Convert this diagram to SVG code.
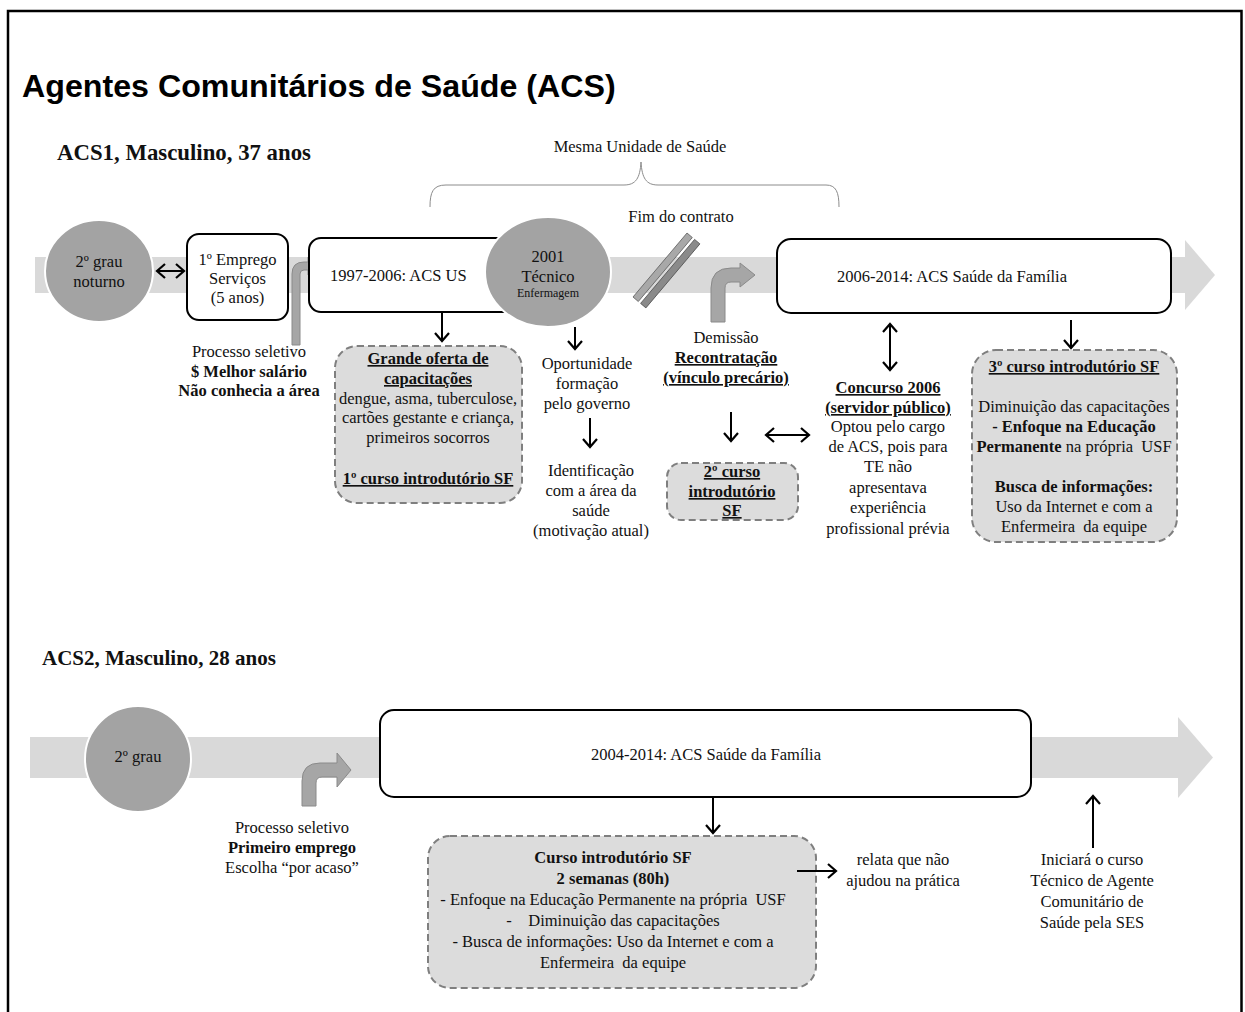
<svg xmlns="http://www.w3.org/2000/svg" width="1245" height="1012" viewBox="0 0 1245 1012">
  <defs>
    <style>
      .t { font-family: "Liberation Serif", "Times New Roman", serif; font-size: 16.5px; fill: #111; text-anchor: middle; }
      .st { text-anchor: start; }
      .b { font-weight: bold; }
      .u { text-decoration: underline; }
      .sm { font-size: 12px; }
      .band { fill: #d9d9d9; }
      .disc { fill: #a3a3a3; stroke: #ffffff; stroke-width: 2; }
      .box { fill: #ffffff; stroke: #000000; stroke-width: 2; }
      .dbox { fill: #dcdcdc; stroke: #7f7f7f; stroke-width: 2; stroke-dasharray: 7 4; }
      .bent { fill: #a6a6a6; stroke: #8a8a8a; stroke-width: 1; }
      .link { fill: none; stroke: #000; stroke-width: 2; }
    </style>
    <marker id="head" viewBox="0 0 16 16" markerUnits="userSpaceOnUse" markerWidth="16" markerHeight="16" refX="14" refY="8" orient="auto-start-reverse">
      <path d="M6,1 L14,8 L6,15" fill="none" stroke="#000" stroke-width="2.2"/>
    </marker>
  </defs>

  <rect width="1245" height="1012" fill="#ffffff"/>
  <!-- open frame -->
  <path d="M8,1012 V11 H1241.5 V1012" fill="none" stroke="#000" stroke-width="2.5"/>

  <text x="22" y="97" style="font-family:'Liberation Sans', Arial, sans-serif; font-size:32.2px; font-weight:bold; fill:#000">Agentes Comunitários de Saúde (ACS)</text>

  <!-- ===== ACS1 ===== -->
  <text class="t b st" x="57" y="160" style="font-size:22.8px">ACS1, Masculino, 37 anos</text>

  <!-- timeline band -->
  <g id="acs1-timeline">
    <rect class="band" x="35" y="257" width="1152" height="36"/>
    <polygon class="band" points="1185,240 1215,275 1185,310"/>
  </g>

  <!-- brace over the same health unit -->
  <g id="acs1-mesma-unidade">
    <path d="M430,207 C430,192 433,185 446,185 L624,185 C636,185 640,178 641,162 C642,178 646,185 658,185 L826,185 C836,185 839,192 839,207" fill="none" stroke="#8c8c8c" stroke-width="1"/>
    <text class="t" x="640" y="152">Mesma Unidade de Saúde</text>
  </g>

  <g id="acs1-grau">
    <ellipse class="disc" cx="99" cy="271" rx="54" ry="51"/>
    <text class="t" x="99" y="267">2º grau</text>
    <text class="t" x="99" y="287">noturno</text>
  </g>

  <g id="acs1-emprego">
    <rect class="box" x="187" y="234" width="101" height="86" rx="12"/>
    <text class="t" x="237.5" y="265">1º Emprego</text>
    <text class="t" x="237.5" y="284">Serviços</text>
    <text class="t" x="237.5" y="303">(5 anos)</text>
  </g>

  <g id="acs1-processo">
    <path class="bent" d="M292,345 V274 Q292,262 304,262 H308 V257 L320,266 L308,275 V270 H304 Q300,270 300,274 V345 Z"/>
    <text class="t" x="249" y="357">Processo seletivo</text>
    <text class="t b" x="249" y="377">$ Melhor salário</text>
    <text class="t b" x="249" y="396">Não conhecia a área</text>
  </g>

  <g id="acs1-acs-us">
    <rect class="box" x="309" y="238" width="250" height="74" rx="12"/>
    <text class="t st" x="330" y="281">1997-2006: ACS US</text>
  </g>

  <g id="acs1-tecnico">
    <ellipse class="disc" cx="548" cy="272" rx="63" ry="55"/>
    <text class="t" x="548" y="262">2001</text>
    <text class="t" x="548" y="282">Técnico</text>
    <text class="t sm" x="548" y="297">Enfermagem</text>
  </g>

  <g id="acs1-fim-contrato">
    <polygon points="633,297 687,233 692.3,237.5 638.3,301.5" fill="#a8a8a8" stroke="#5a5a5a" stroke-width="0.8"/>
    <polygon points="640.6,303.4 694.6,239.4 699.9,243.9 645.9,307.9" fill="#8a8a8a" stroke="#4a4a4a" stroke-width="0.8"/>
    <text class="t" x="681" y="222">Fim do contrato</text>
  </g>

  <g id="acs1-saude-familia">
    <rect class="box" x="777" y="239" width="394" height="74" rx="14"/>
    <text class="t" x="952" y="282">2006-2014: ACS Saúde da Família</text>
  </g>

  <g id="acs1-grande-oferta">
    <rect class="dbox" x="335" y="346" width="187" height="157" rx="22"/>
    <text class="t b u" x="428" y="364">Grande oferta de</text>
    <text class="t b u" x="428" y="384">capacitações</text>
    <text class="t" x="428" y="404">dengue, asma, tuberculose,</text>
    <text class="t" x="428" y="423">cartões gestante e criança,</text>
    <text class="t" x="428" y="443">primeiros socorros</text>
    <text class="t b u" x="428" y="484">1º curso introdutório SF</text>
  </g>

  <g id="acs1-oportunidade">
    <text class="t" x="587" y="369">Oportunidade</text>
    <text class="t" x="587" y="389">formação</text>
    <text class="t" x="587" y="409">pelo governo</text>
  </g>

  <g id="acs1-identificacao">
    <text class="t" x="591" y="476">Identificação</text>
    <text class="t" x="591" y="496">com a área da</text>
    <text class="t" x="591" y="516">saúde</text>
    <text class="t" x="591" y="536">(motivação atual)</text>
  </g>

  <g id="acs1-recontratacao">
    <path class="bent" d="M711,322 V288 Q711,268 731,268 H740 V263 L755,275 L740,287 V282 H731 Q725,282 725,288 V322 Z"/>
    <text class="t" x="726" y="343">Demissão</text>
    <text class="t b u" x="726" y="363">Recontratação</text>
    <text class="t b u" x="726" y="383">(vínculo precário)</text>
  </g>

  <g id="acs1-curso2">
    <rect class="dbox" x="667" y="463" width="131" height="57" rx="14"/>
    <text class="t b u" x="732" y="477">2º curso</text>
    <text class="t b u" x="732" y="497">introdutório</text>
    <text class="t b u" x="732" y="516">SF</text>
  </g>

  <g id="acs1-concurso">
    <text class="t b u" x="888" y="393">Concurso 2006</text>
    <text class="t b u" x="888" y="413">(servidor público)</text>
    <text class="t" x="888" y="432">Optou pelo cargo</text>
    <text class="t" x="888" y="452">de ACS, pois para</text>
    <text class="t" x="888" y="472">TE não</text>
    <text class="t" x="888" y="493">apresentava</text>
    <text class="t" x="888" y="513">experiência</text>
    <text class="t" x="888" y="534">profissional prévia</text>
  </g>

  <g id="acs1-curso3">
    <rect class="dbox" x="972" y="350" width="205" height="192" rx="24"/>
    <text class="t b u" x="1074" y="372">3º curso introdutório SF</text>
    <text class="t" x="1074" y="412">Diminuição das capacitações</text>
    <text class="t b" x="1074" y="432">- Enfoque na Educação</text>
    <text class="t" x="1074" y="452" xml:space="preserve"><tspan font-weight="bold">Permanente</tspan> na própria  USF</text>
    <text class="t b" x="1074" y="492">Busca de informações:</text>
    <text class="t" x="1074" y="512">Uso da Internet e com a</text>
    <text class="t" x="1074" y="532" xml:space="preserve">Enfermeira  da equipe</text>
  </g>

  <!-- ===== ACS2 ===== -->
  <text class="t b st" x="42" y="665" style="font-size:21px">ACS2, Masculino, 28 anos</text>

  <g id="acs2-timeline">
    <rect class="band" x="30" y="737" width="1150" height="41"/>
    <polygon class="band" points="1178,717 1213,757.5 1178,798"/>
  </g>

  <g id="acs2-grau">
    <ellipse class="disc" cx="138" cy="759" rx="53" ry="53"/>
    <text class="t" x="138" y="762">2º grau</text>
  </g>

  <g id="acs2-processo">
    <path class="bent" d="M302,806 V781 Q302,763 320,763 H337 V753 L351,770 L337,787 V777 H322 Q316,777 316,783 V806 Z"/>
    <text class="t" x="292" y="833">Processo seletivo</text>
    <text class="t b" x="292" y="853">Primeiro emprego</text>
    <text class="t" x="292" y="873">Escolha “por acaso”</text>
  </g>

  <g id="acs2-saude-familia">
    <rect class="box" x="380" y="710" width="651" height="87" rx="14"/>
    <text class="t" x="706" y="760">2004-2014: ACS Saúde da Família</text>
  </g>

  <g id="acs2-curso">
    <rect class="dbox" x="428" y="836" width="388" height="152" rx="22"/>
    <text class="t b" x="613" y="863">Curso introdutório SF</text>
    <text class="t b" x="613" y="884">2 semanas (80h)</text>
    <text class="t" x="613" y="905" xml:space="preserve">- Enfoque na Educação Permanente na própria  USF</text>
    <text class="t" x="613" y="926" xml:space="preserve">-    Diminuição das capacitações</text>
    <text class="t" x="613" y="947">- Busca de informações: Uso da Internet e com a</text>
    <text class="t" x="613" y="968" xml:space="preserve">Enfermeira  da equipe</text>
  </g>

  <g id="acs2-relata">
    <text class="t" x="903" y="865">relata que não</text>
    <text class="t" x="903" y="886">ajudou na prática</text>
  </g>

  <g id="acs2-tecnico-acs">
    <text class="t" x="1092" y="865">Iniciará o curso</text>
    <text class="t" x="1092" y="886">Técnico de Agente</text>
    <text class="t" x="1092" y="907">Comunitário de</text>
    <text class="t" x="1092" y="928">Saúde pela SES</text>
  </g>

  <!-- connectors -->
  <g id="connectors">
    <line class="link" x1="157" y1="271" x2="184" y2="271" marker-start="url(#head)" marker-end="url(#head)"/>
    <line class="link" x1="442" y1="312" x2="442" y2="341" marker-end="url(#head)"/>
    <line class="link" x1="575" y1="327" x2="575" y2="349" marker-end="url(#head)"/>
    <line class="link" x1="590" y1="418" x2="590" y2="447" marker-end="url(#head)"/>
    <line class="link" x1="731" y1="412" x2="731" y2="441" marker-end="url(#head)"/>
    <line class="link" x1="766" y1="435" x2="809" y2="435" marker-start="url(#head)" marker-end="url(#head)"/>
    <line class="link" x1="890" y1="324" x2="890" y2="370" marker-start="url(#head)" marker-end="url(#head)"/>
    <line class="link" x1="1071" y1="320" x2="1071" y2="348" marker-end="url(#head)"/>
    <line class="link" x1="713" y1="798" x2="713" y2="833" marker-end="url(#head)"/>
    <line class="link" x1="797" y1="871" x2="836" y2="871" marker-end="url(#head)"/>
    <line class="link" x1="1093" y1="848" x2="1093" y2="796" marker-end="url(#head)"/>
  </g>
</svg>
